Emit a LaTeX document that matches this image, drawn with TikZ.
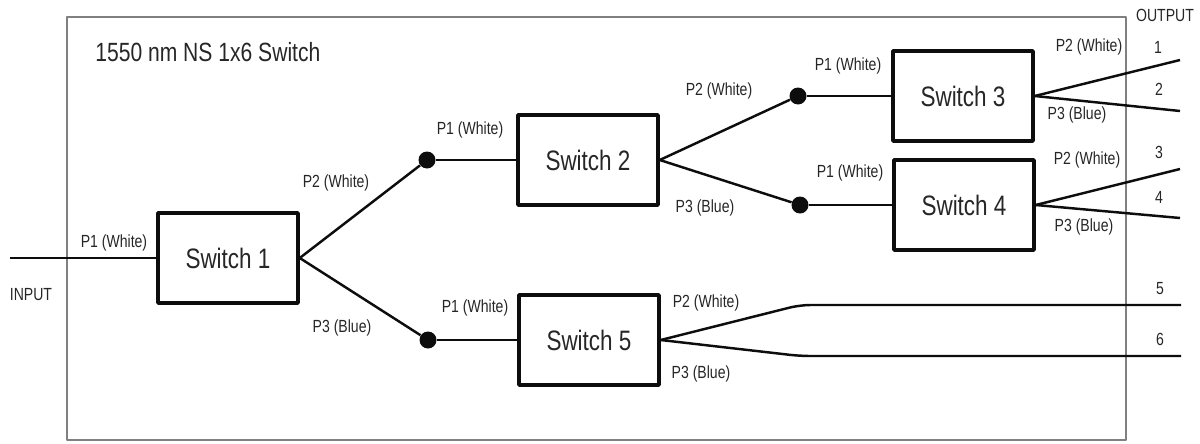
\documentclass[tikz,border=0pt]{standalone}
\usepackage{fontspec}
\setmainfont[FakeStretch=0.8]{Liberation Sans}
\usetikzlibrary{shapes,arrows}

\begin{document}
\begin{tikzpicture}[x=0.02cm,y=-0.02cm,line join=round]
	\def \rowone{96}
	\def \rowtwo{160}
	\def \rowthree{205}
	\def \rowfour{258}
	\def \rowfive{340}
	\tikzstyle{sw-node}=[rectangle,draw=black!95,line width=2pt,minimum width=2.8cm,minimum height=1.8cm,inner sep=0pt,text=black!85,font=\fontsize{16}{18}\selectfont]
	\tikzstyle{j-node}=[circle,fill=black!95,inner sep=0pt,minimum size=3.4mm]
	\tikzstyle{fibre}=[draw=black!95,line width=1.4pt]
	\tikzstyle{annot}=[inner sep=0pt,text=black!85,font=\fontsize{10}{12}\selectfont]

	\useasboundingbox (0,0) rectangle (1200,443);
	% housing
	\draw[black!50,line width=0.6pt] (67,17) rectangle (1126,440);
	\node[annot,anchor=west,font=\fontsize{15}{18}\selectfont] (title) at (95,52) {1550 nm NS 1x6 Switch};

	% switches
	\node[sw-node] 	(sw1)	at (228,\rowfour)	{Switch 1};
	\node[sw-node] 	(sw2)	at (588,\rowtwo)	{Switch 2};
	\node[sw-node] 	(sw3)	at (963,\rowone)	{Switch 3};
	\node[sw-node] 	(sw4)	at (964,\rowthree)	{Switch 4};
	\node[sw-node] 	(sw5)	at (589,\rowfive)	{Switch 5};

	% splices
	\node[j-node] 	(d1)	at (427,\rowtwo)	{};
	\node[j-node] 	(d2)	at (798,\rowone)	{};
	\node[j-node] 	(d3)	at (800,\rowthree)	{};
	\node[j-node] 	(d4)	at (428,\rowfive)	{};

	% fibre ends
	\coordinate (in) at (10,\rowfour);
	\coordinate (o1) at (1180,60);
	\coordinate (o2) at (1180,111);
	\coordinate (o3) at (1180,169);
	\coordinate (o4) at (1180,218);
	\coordinate (b5) at (800,305);
	\coordinate (b6) at (800,356);
	\coordinate (o5) at (1181,305);
	\coordinate (o6) at (1181,356);

	\path[fibre] (in)	edge	(sw1.west)
		(sw1.east)	edge	(d1)
		(sw1.east)	edge	(d4)
		(d1)	edge	(sw2.west)
		(d4)	edge	(sw5.west)
		(sw2.east)	edge	(d2)
		(sw2.east)	edge	(d3)
		(d2)	edge	(sw3.west)
		(d3)	edge	(sw4.west)
		(sw3.east)	edge	(o1)
		(sw3.east)	edge	(o2)
		(sw4.east)	edge	(o3)
		(sw4.east)	edge	(o4);
	\draw[fibre,rounded corners=6pt] (sw5.east) -- (b5) -- (o5);
	\draw[fibre,rounded corners=6pt] (sw5.east) -- (b6) -- (o6);

	% port labels
	\node[annot] (in-lab)	at (31,295)	{INPUT};
	\node[annot] (out-lab)	at (1165,15)	{OUTPUT};
	\node[annot] (p-in)	at (114,243)	{P1 (White)};
	\node[annot] (p12)	at (336,183)	{P2 (White)};
	\node[annot] (p13)	at (342,328)	{P3 (Blue)};
	\node[annot] (p21)	at (470,130)	{P1 (White)};
	\node[annot] (p22)	at (719,91)	{P2 (White)};
	\node[annot] (p23)	at (705,208)	{P3 (Blue)};
	\node[annot] (p31)	at (848,66)	{P1 (White)};
	\node[annot] (p32)	at (1089,47)	{P2 (White)};
	\node[annot] (p33)	at (1077,115)	{P3 (Blue)};
	\node[annot] (p41)	at (850,173)	{P1 (White)};
	\node[annot] (p42)	at (1087,160)	{P2 (White)};
	\node[annot] (p43)	at (1084,227)	{P3 (Blue)};
	\node[annot] (p51)	at (475,308)	{P1 (White)};
	\node[annot] (p52)	at (706,303)	{P2 (White)};
	\node[annot] (p53)	at (701,374)	{P3 (Blue)};

	% output numbers
	\node[annot] (n1)	at (1158,47)	{1};
	\node[annot] (n2)	at (1159,89)	{2};
	\node[annot] (n3)	at (1159,152)	{3};
	\node[annot] (n4)	at (1159,197)	{4};
	\node[annot] (n5)	at (1160,289)	{5};
	\node[annot] (n6)	at (1160,339)	{6};
\end{tikzpicture}
\end{document}
